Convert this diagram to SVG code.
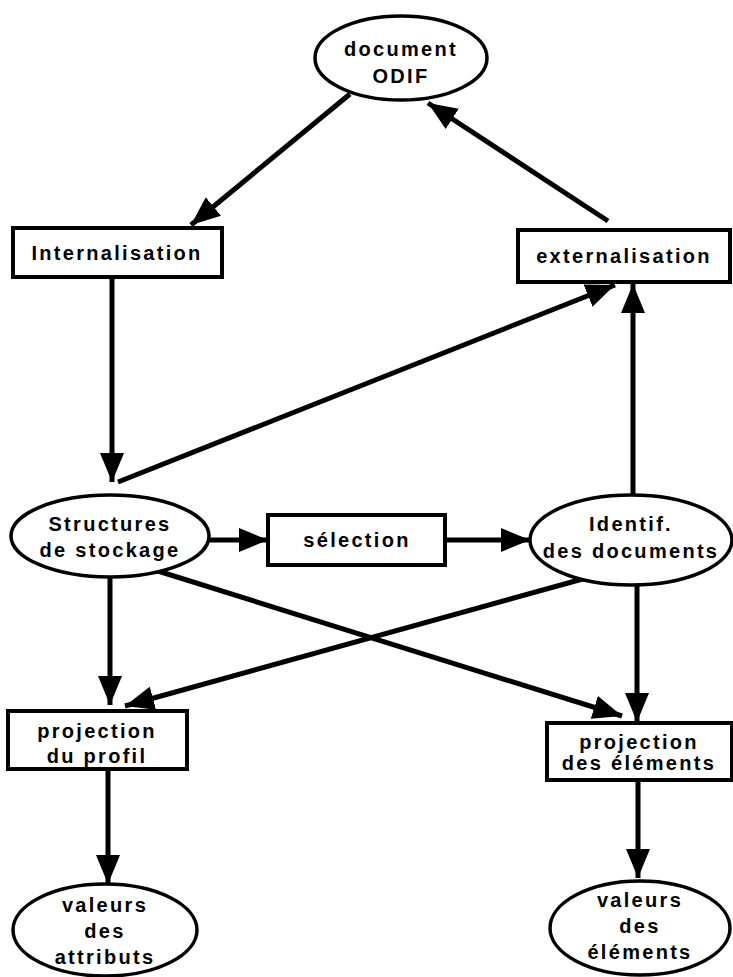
<svg xmlns="http://www.w3.org/2000/svg" width="733" height="977" viewBox="0 0 733 977">
<defs>
<marker id="ah" markerUnits="userSpaceOnUse" markerWidth="32" markerHeight="26" refX="29" refY="12" orient="auto">
<path d="M0,0 L29,12 L0,24 z" fill="#000"/>
</marker>
<style>
.box{fill:#fff;stroke:#000;stroke-width:4}
.ell{fill:#fff;stroke:#000;stroke-width:3.5}
.t{font-family:"Liberation Sans",Arial,sans-serif;font-weight:bold;font-size:20px;letter-spacing:2.3px;text-anchor:middle;fill:#000}
.c{stroke:#000;stroke-width:5;fill:none;marker-end:url(#ah)}
</style>
</defs>
<rect width="733" height="977" fill="#fff"/>
<g id="connectors">
<line class="c" x1="350" y1="94" x2="191" y2="225"/>
<line class="c" x1="608" y1="221" x2="428" y2="103"/>
<line class="c" x1="112" y1="277" x2="112" y2="482"/>
<line class="c" x1="118" y1="482" x2="615" y2="285"/>
<line class="c" x1="633" y1="496" x2="633" y2="284"/>
<line class="c" x1="209" y1="540" x2="268" y2="540"/>
<line class="c" x1="445" y1="540" x2="530" y2="540"/>
<line class="c" x1="110" y1="578" x2="110" y2="705"/>
<line class="c" x1="597" y1="575" x2="125" y2="706"/>
<line class="c" x1="145" y1="567" x2="622" y2="716"/>
<line class="c" x1="637" y1="585" x2="637" y2="722"/>
<line class="c" x1="108" y1="769" x2="108" y2="884"/>
<line class="c" x1="638" y1="780" x2="638" y2="878"/>
</g>
<g id="n-odif">
<ellipse class="ell" cx="401" cy="58" rx="86" ry="42"/>
<text class="t" x="401" y="56">document</text>
<text class="t" x="401" y="83">ODIF</text>
</g>
<g id="n-internalisation">
<rect class="box" x="13" y="228" width="209" height="49"/>
<text class="t" x="117" y="260">Internalisation</text>
</g>
<g id="n-externalisation">
<rect class="box" x="518" y="230" width="212" height="52"/>
<text class="t" x="624" y="263">externalisation</text>
</g>
<g id="n-structures">
<ellipse class="ell" cx="110" cy="536" rx="99" ry="41"/>
<text class="t" x="110" y="531">Structures</text>
<text class="t" x="110" y="557">de stockage</text>
</g>
<g id="n-selection">
<rect class="box" x="268" y="515" width="177" height="50"/>
<text class="t" x="357" y="547">sélection</text>
</g>
<g id="n-identif">
<ellipse class="ell" cx="631" cy="540" rx="101" ry="45"/>
<text class="t" x="631" y="531">Identif.</text>
<text class="t" x="631" y="558">des documents</text>
</g>
<g id="n-profil">
<rect class="box" x="8" y="711" width="179" height="58"/>
<text class="t" x="97" y="738">projection</text>
<text class="t" x="97" y="763">du profil</text>
</g>
<g id="n-elements">
<rect class="box" x="547" y="723" width="185" height="57"/>
<text class="t" x="639" y="749">projection</text>
<text class="t" x="639" y="770">des éléments</text>
</g>
<g id="n-attributs">
<ellipse class="ell" cx="105" cy="930" rx="92" ry="46"/>
<text class="t" x="105" y="912">valeurs</text>
<text class="t" x="105" y="938">des</text>
<text class="t" x="105" y="964">attributs</text>
</g>
<g id="n-valelements">
<ellipse class="ell" cx="640" cy="928" rx="90" ry="47"/>
<text class="t" x="640" y="907">valeurs</text>
<text class="t" x="640" y="933">des</text>
<text class="t" x="640" y="959">éléments</text>
</g>
</svg>
